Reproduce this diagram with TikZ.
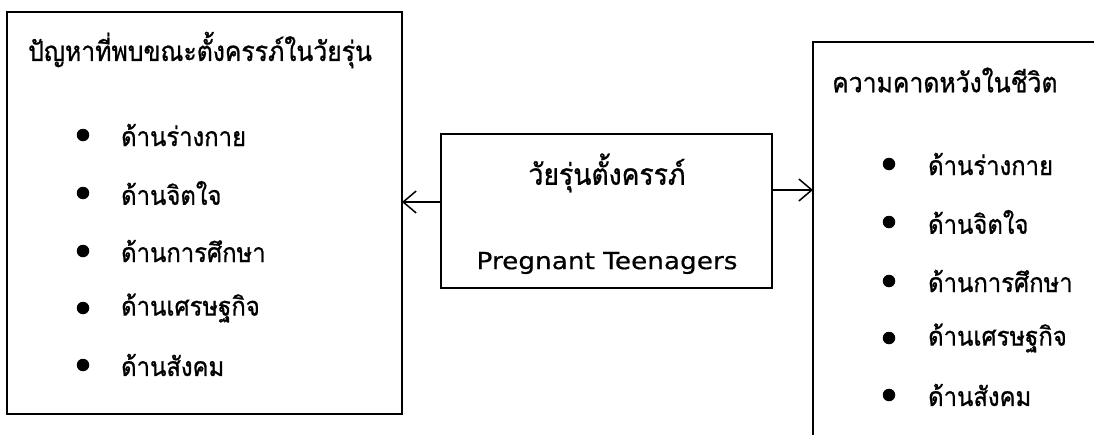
\documentclass[tikz,border=0pt]{standalone}
\usepackage{fontspec}
\setmainfont[Script=Thai,FakeBold=0.9,FakeStretch=0.9]{Loma}
\newfontfamily\latinfont[FakeStretch=1.12,FakeBold=0.5]{DejaVu Sans}
\usetikzlibrary{arrows.meta}
\begin{document}
\begin{tikzpicture}[x=1pt,y=-1pt,
  box/.style={draw, line width=1.1pt, inner sep=0pt, outer sep=0pt},
  lbl/.style={anchor=west, inner sep=0pt, font=\fontsize{26.5}{30}\selectfont},
  ttl/.style={anchor=west, inner sep=0pt, font=\fontsize{27.5}{31}\selectfont},
  ctr/.style={inner sep=0pt, font=\fontsize{29.5}{33}\selectfont},
  lat/.style={inner sep=0pt, font=\latinfont\fontsize{23.5}{27}\selectfont},
  dot/.style={circle, fill, inner sep=0pt, minimum size=12.5pt},
  conn/.style={line width=1.5pt, -{Straight Barb[length=13pt,width=22pt,line width=1.5pt]}}]
\useasboundingbox (0,0) rectangle (1094,434);
% boxes
\node[box, minimum width=395pt, minimum height=402pt] (L) at (204.5,213) {};
\node[box, minimum width=331pt, minimum height=154pt] (C) at (606.5,211) {};
\node[box, minimum width=300pt, minimum height=400pt] (R) at (963,242) {};
% left box texts
\node[ttl] (Lt) at (28,50) {ปัญหาที่พบขณะตั้งครรภ์ในวัยรุ่น};
\foreach \y/\t/\n in {135/ด้านร่างกาย/1, 193/ด้านจิตใจ/2, 251/ด้านการศึกษา/3, 308/ด้านเศรษฐกิจ/4, 365/ด้านสังคม/5}{
  \node[dot] (Ld\n) at (83,\y) {};
  \node[lbl] (Lx\n) at (121,\y) {\t};
}
% right box texts
\node[ttl] (Rt) at (832,80) {ความคาดหวังในชีวิต};
\foreach \y/\t/\n in {164/ด้านร่างกาย/1, 222/ด้านจิตใจ/2, 281/ด้านการศึกษา/3, 338/ด้านเศรษฐกิจ/4, 395/ด้านสังคม/5}{
  \node[dot] (Rd\n) at (889,\y) {};
  \node[lbl] (Rx\n) at (928,\y) {\t};
}
% centre texts
\node[ctr] (C1) at (607,173) {วัยรุ่นตั้งครรภ์};
\node[lat] (C2) at (607,263) {Pregnant Teenagers};
% connectors
\draw[conn] ([yshift=9pt]C.west) coordinate (a1) -- (a1 -| L.east);
\draw[conn] ([yshift=21pt]C.east) coordinate (a2) -- (a2 -| R.west);
\end{tikzpicture}
\end{document}
